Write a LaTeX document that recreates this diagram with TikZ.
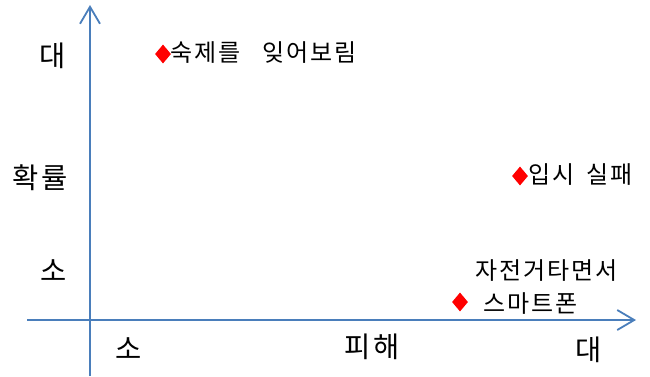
\documentclass[tikz,border=0pt]{standalone}
\usepackage{fontspec}
\setmainfont{Noto Sans CJK KR}[LetterSpace=8]
\usetikzlibrary{arrows.meta,shapes.geometric}
\definecolor{axisblue}{HTML}{4A7EBB}
\tikzset{
  axisline/.style={draw=axisblue,line width=2pt,-{Straight Barb[length=17pt,width=20pt,line width=1.8pt]}},
  axislabel/.style={inner sep=0pt,font=\fontsize{28.5pt}{31pt}\selectfont},
  ptlabel/.style={inner sep=0pt,anchor=west,font=\fontsize{24pt}{27pt}\selectfont},
  pt/.style={diamond,fill=red,draw=none,inner sep=0pt,minimum width=16pt,minimum height=19pt}
}
\begin{document}
\begin{tikzpicture}[x=1pt,y=-1pt]
\useasboundingbox (0,0) rectangle (650,376);
\coordinate (yb) at (90,376);
\coordinate (yt) at (90,5);
\coordinate (xl) at (27,320);
\coordinate (xr) at (636,320);
\draw[axisline] (yb) -- (yt);
\draw[axisline] (xl) -- (xr);
% axis labels
\node[axislabel] (ybig) at (53,56) {대};
\node[axislabel] (yname) at (40,178) {확률};
\node[axislabel] (ysmall) at (54,271) {소};
\node[axislabel] (xsmall) at (129,349) {소};
\node[axislabel] (xname) at (372,347) {피해};
\node[axislabel] (xbig) at (589,350) {대};
% points
\node[pt] (p1) at (163,54) {};
\node[ptlabel] (l1) at (170,53) {숙제를\hspace{22pt}잊어보림};
\node[pt] (p2) at (520,176) {};
\node[ptlabel] (l2) at (528,175) {입시\hspace{12pt}실패};
\node[pt] (p3) at (460,302) {};
\node[ptlabel] (l3a) at (475,271) {자전거타면서};
\node[ptlabel] (l3b) at (483,304) {스마트폰};
\end{tikzpicture}
\end{document}
